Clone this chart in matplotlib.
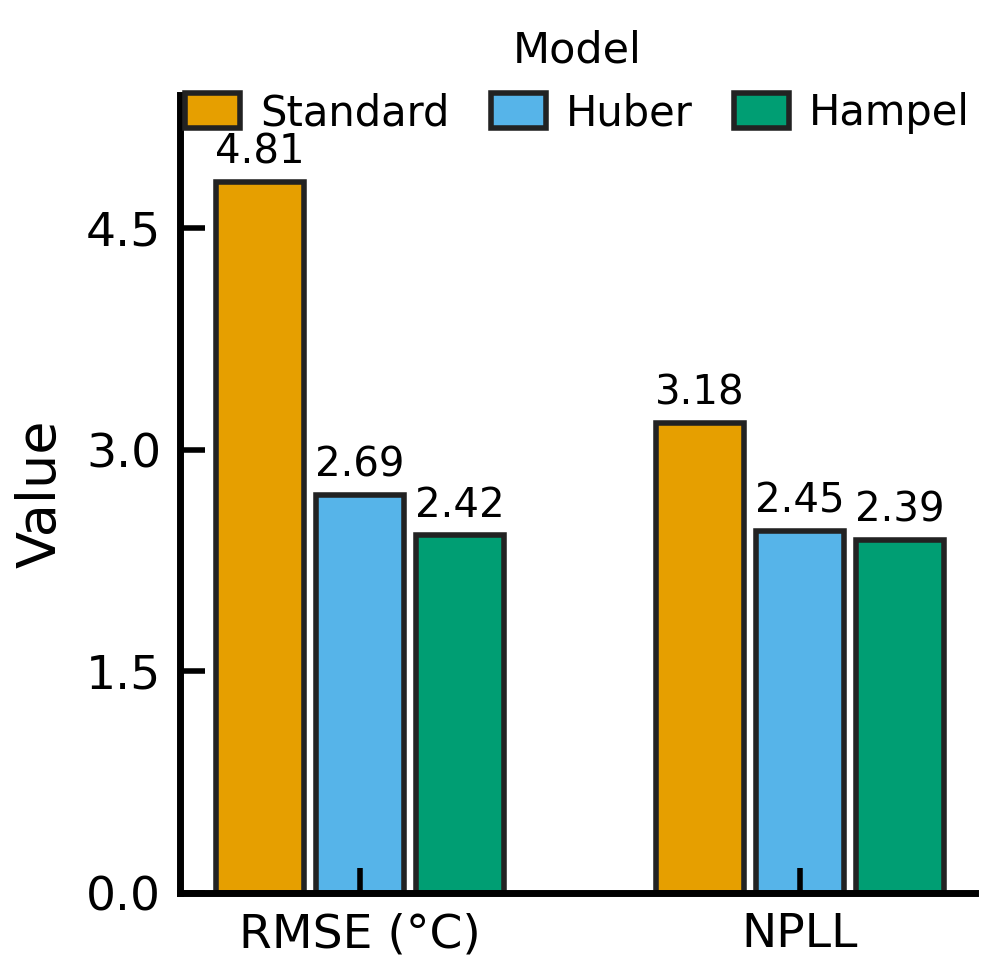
import numpy as np
import matplotlib.pyplot as plt

metrics = ['RMSE (°C)', 'NPLL']
models = ['Standard', 'Huber', 'Hampel']
values = {
    'Standard': [4.81, 3.18],
    'Huber': [2.69, 2.45],
    'Hampel': [2.42, 2.39],
}
colors = ['#E69F00', '#56B4E9', '#009E73']

fig = plt.figure(figsize=(9.94, 9.69), dpi=100)
ax = fig.add_axes([0.181, 0.0785, 0.8, 0.8235])

x = np.arange(len(metrics))
step = 0.227
width = 0.2
for i, (m, c) in enumerate(zip(models, colors)):
    bars = ax.bar(x + (i - 1) * step, values[m], width, color=c,
                  edgecolor='#222222', linewidth=4, label=m)
    ax.bar_label(bars, labels=[f'{v:.2f}' for v in values[m]],
                 padding=7, fontsize=29)

ax.set_xlim(-0.409, 1.398)
ax.set_ylim(0, 5.4)
ax.set_yticks([0, 1.5, 3.0, 4.5])
ax.set_yticklabels(['0.0', '1.5', '3.0', '4.5'])
ax.set_xticks(x)
ax.set_xticklabels(metrics)
ax.set_ylabel('Value', fontsize=39, labelpad=14)

for s in ['top', 'right']:
    ax.spines[s].set_visible(False)
for s in ['left', 'bottom']:
    ax.spines[s].set_linewidth(5)
ax.tick_params(axis='both', direction='in', length=18, width=4,
               labelsize=34)
ax.tick_params(axis='y', pad=13.5)
ax.tick_params(axis='x', pad=14)

leg = ax.legend(title='Model', ncol=3, loc='lower center',
                bbox_to_anchor=(0.5, 0.904), frameon=False,
                fontsize=30, title_fontsize=31,
                handlelength=1.32, handleheight=0.9,
                columnspacing=1.0, handletextpad=0.48)

fig.savefig('out.png', dpi=100)
